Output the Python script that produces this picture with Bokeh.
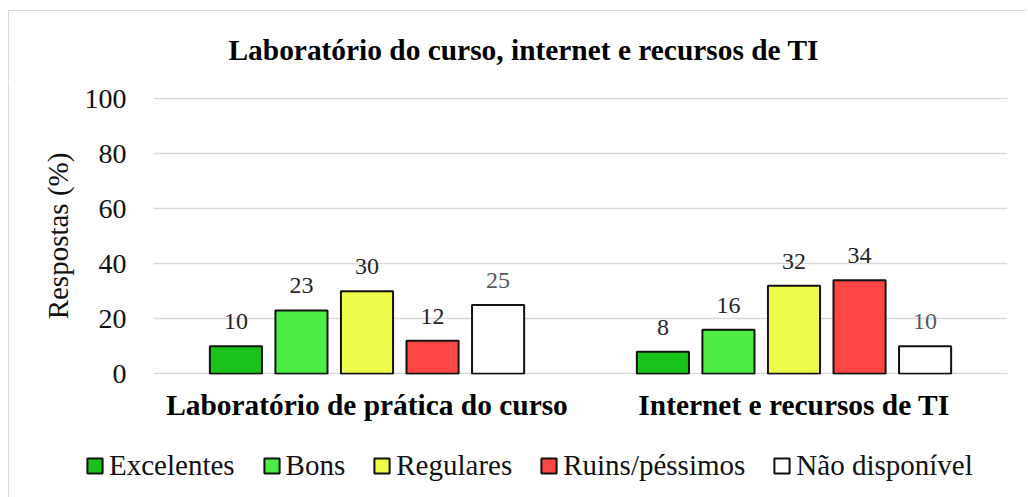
from bokeh.plotting import figure
from bokeh.models import (ColumnDataSource, FactorRange, Range1d, LabelSet, Label,
                          Legend, LegendItem, BoxAnnotation)
from bokeh.transform import dodge
from bokeh.embed import file_html
from bokeh.resources import INLINE

# ---- data ----
categories = ["Laboratório de prática do curso", "Internet e recursos de TI"]
series = ["Excelentes", "Bons", "Regulares", "Ruins/péssimos", "Não disponível"]
excelentes = [10, 8]
bons = [23, 16]
regulares = [30, 32]
ruins_pessimos = [12, 34]
nao_disponivel = [25, 10]
title_text = "Laboratório do curso, internet e recursos de TI"
y_label = "Respostas (%)"
y_ticks = [0, 20, 40, 60, 80, 100]

# ---- styles ----
colors = ["#1cc21c", "#4cec44", "#eefb4a", "#ff4646", "#ffffff"]
label_colors = ["#262626", "#262626", "#262626", "#262626", "#595959"]
offsets = [-0.307, -0.1535, 0.0, 0.1535, 0.307]
bar_width = 0.122
FONT = "Liberation Serif"
W = 1019

cols = ["s0", "s1", "s2", "s3", "s4"]
values = [excelentes, bons, regulares, ruins_pessimos, nao_disponivel]
data = {"cat": categories}
for c, v in zip(cols, values):
    data[c] = v
    data[c + "_txt"] = [str(x) for x in v]
src = ColumnDataSource(data)

# ---- title strip ----
p0 = figure(width=W, height=71, x_range=Range1d(0, W), y_range=Range1d(71, 0),
            output_backend="svg", toolbar_location=None, min_border=0,
            x_axis_type=None, y_axis_type=None)
p0.styles = {"margin-left": "9px", "margin-top": "11px",
             "box-shadow": "-1px -1px 0 0 #d9d9d9"}
p0.outline_line_color = None
p0.grid.visible = False
p0.add_layout(Label(x=219, y=38, text=title_text, text_font=FONT,
                    text_font_style="bold", text_font_size="29.4px",
                    text_align="left", text_baseline="alphabetic",
                    text_color="#000000"))

# ---- main chart ----
p = figure(
    x_range=FactorRange(*categories, range_padding=0),
    y_range=Range1d(-0.3, 100.4),
    width=W, height=359,
    output_backend="svg", toolbar_location=None,
    min_border_left=144, min_border_right=21,
    min_border_top=15, min_border_bottom=67,
)
p.styles = {"margin-left": "9px", "box-shadow": "-1px 0 0 0 #d9d9d9"}
p.outline_line_color = None
p.xgrid.visible = False
p.ygrid.grid_line_color = "#d9d9d9"
p.ygrid.grid_line_width = 1.5

for i, c in enumerate(cols):
    x = dodge("cat", offsets[i], range=p.x_range)
    p.vbar(x=x, top=c, width=bar_width, source=src,
           fill_color=colors[i], line_color="#111111", line_width=2)
    labels = LabelSet(x=x, y=c, text=c + "_txt", source=src,
                      text_align="center", text_baseline="alphabetic",
                      y_offset=17, text_font=FONT, text_font_size="24px",
                      text_color=label_colors[i])
    p.add_layout(labels)

# y axis
p.yaxis.ticker = y_ticks
p.yaxis.axis_label = y_label
p.yaxis.axis_label_text_font = FONT
p.yaxis.axis_label_text_font_size = "29px"
p.yaxis.axis_label_text_font_style = "normal"
p.yaxis.axis_label_text_color = "#111111"
p.yaxis.axis_label_standoff = 8
p.yaxis.major_label_text_font = FONT
p.yaxis.major_label_text_font_size = "28px"
p.yaxis.major_label_text_color = "#111111"
p.yaxis.major_label_standoff = 21
p.yaxis.axis_line_color = None
p.yaxis.major_tick_line_color = None
p.yaxis.minor_tick_line_color = None

# x axis
p.xaxis.major_label_text_font = FONT
p.xaxis.major_label_text_font_size = "29.4px"
p.xaxis.major_label_text_font_style = "bold"
p.xaxis.major_label_text_color = "#000000"
p.xaxis.major_label_standoff = 8
p.xaxis.axis_line_color = None
p.xaxis.major_tick_line_color = None
p.xaxis.minor_tick_line_color = None

# ---- legend strip (its bars lie below its view; only swatches show) ----
p2 = figure(width=W, height=56,
            x_range=FactorRange(*categories, range_padding=0),
            y_range=Range1d(1000, 1001),
            output_backend="svg", toolbar_location=None,
            min_border=0, x_axis_type=None, y_axis_type=None)
p2.styles = {"margin-left": "9px", "box-shadow": "-1px 0 0 0 #d9d9d9"}
p2.outline_line_color = None
p2.grid.visible = False
items = []
for i, c in enumerate(cols):
    r = p2.vbar(x=dodge("cat", offsets[i], range=p2.x_range), top=c,
                width=bar_width, source=src, fill_color=colors[i],
                line_color="#111111", line_width=2)
    items.append(LegendItem(label=series[i], renderers=[r]))
# white strip hiding the clipped edge of the out-of-view bars
p2.add_layout(BoxAnnotation(top=1000.1, fill_color="white", fill_alpha=1.0,
                            line_color=None, line_alpha=0))
lg = Legend(items=items, orientation="horizontal", location=(76, 15),
            glyph_width=19, glyph_height=19, label_standoff=5, spacing=27,
            padding=0, margin=0, border_line_color=None,
            background_fill_alpha=0, label_text_font=FONT,
            label_text_font_size="29px", label_text_color="#111111")
p2.add_layout(lg, "center")

open("out.html", "w").write(file_html([p0, p, p2], INLINE))
